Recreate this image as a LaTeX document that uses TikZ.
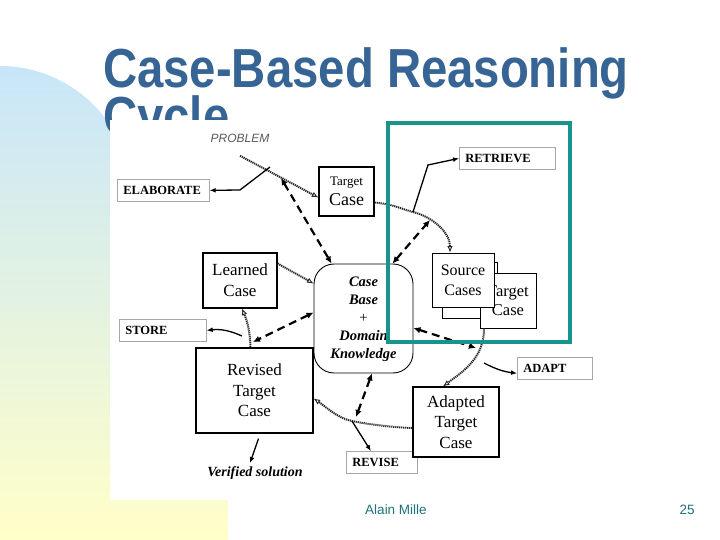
\documentclass[tikz,border=0pt]{standalone}
\usepackage{fontspec}
\setmainfont{Liberation Serif}
\newfontfamily\titlefont[FakeStretch=0.86]{Liberation Sans}
\newfontfamily\slidefont{Liberation Sans}
\usepackage{tikz}
\usetikzlibrary{arrows.meta,positioning,calc}
\definecolor{titleblue}{RGB}{54,100,148}
\definecolor{frameteal}{RGB}{24,148,140}
\definecolor{footteal}{RGB}{30,115,125}
\definecolor{skyblue}{RGB}{200,230,250}
\definecolor{paleyellow}{RGB}{255,255,200}
\tikzset{
  casebox/.style = {draw, line width=1.2pt, fill=white, align=center, inner sep=0pt, font=\fontsize{17}{20.5}\selectfont},
  stepbox/.style = {draw=gray!70, line width=0.7pt, fill=white, inner xsep=6pt, inner ysep=0pt, minimum height=22pt, text width=#1, align=left, anchor=north west, font=\bfseries\fontsize{12.5}{14}\selectfont},
  flow/.style = {draw=black!85, line width=2pt, dash pattern=on 1.2pt off 0.8pt, -{Latex[open,length=6.5pt,width=5.5pt,line width=0.9pt]}},
  act/.style = {line width=1.3pt, -{Latex[length=6pt,width=5pt]}},
  link/.style = {line width=2.2pt, dash pattern=on 8pt off 5pt, {Latex[length=7pt,width=6.5pt]}-{Latex[length=7pt,width=6.5pt]}},
}

\begin{document}
\begin{tikzpicture}[x=1pt,y=-1pt]
\useasboundingbox (0,0) rectangle (720,540);
\fill[white] (0,0) rectangle (720,540);
% slide decoration
\shade[top color=skyblue, bottom color=paleyellow] (0,66) arc[start angle=90, end angle=0, radius=132pt] -- (228,198) -- (228,540) -- (0,540) -- cycle;
\node[anchor=base west, inner sep=0, text=titleblue, font=\titlefont\bfseries\fontsize{55}{55}\selectfont] (title) at (103,88) {Case-Based Reasoning};
\node[anchor=base west, inner sep=0, text=titleblue, font=\titlefont\bfseries\fontsize{55}{55}\selectfont] (title2) at (103,136) {Cycle};
% the pasted figure
\fill[white] (110,120) rectangle (600,500);

\node[font=\slidefont\itshape\fontsize{12}{14}\selectfont, text=black!65] (problem) at (240,138) {PROBLEM};
\node[stepbox=80pt] (elab) at (117,179) {ELABORATE};
\node[stepbox=84pt] (retrieve) at (459,147) {RETRIEVE};
\node[stepbox=75pt] (store) at (119,319) {STORE};
\node[stepbox=63pt] (adapt) at (517,357) {ADAPT};
\node[stepbox=59pt] (revise) at (346,451) {REVISE};

\node[casebox, minimum width=55pt, minimum height=49pt] (target) at (346.5,191.5) {{\fontsize{13}{15}\selectfont Target}\\{\fontsize{18}{19}\selectfont Case}};
\node[casebox, minimum width=74pt, minimum height=55pt, font=\fontsize{17}{21}\selectfont] (learned) at (240,280.5) {Learned\\Case};
\node[casebox, minimum width=117pt, minimum height=85pt] (revised) at (254.5,390.5) {Revised\\Target\\Case};
\node[casebox, minimum width=86pt, minimum height=70pt] (adapted) at (456,422) {Adapted\\Target\\Case};
\node[casebox, line width=0.8pt, minimum width=55pt, minimum height=56pt] (sourceback) at (469.5,290) {};
\node[casebox, line width=0.8pt, minimum width=56pt, minimum height=55pt, font=\fontsize{16.5}{19.5}\selectfont] (target2) at (508,300.5) {Target\\Case};
\node[casebox, line width=0.8pt, minimum width=62pt, minimum height=54pt, font=\fontsize{16}{20}\selectfont] (sources) at (463,280) {Source\\Cases};
\node[draw, line width=0.9pt, fill=white, rounded corners=20pt, minimum width=99pt, minimum height=109pt, inner sep=0pt, font=\bfseries\itshape\fontsize{14.5}{18}\selectfont] (casebase) at (363.5,318.5)
  {\raisebox{-6pt}{\begin{tabular}{@{}c@{}}Case\\Base\\{\mdseries\upshape +}\\Domain\\Knowledge\end{tabular}}};
\node[font=\bfseries\itshape\fontsize{14}{16}\selectfont] (verified) at (255,473) {Verified solution};

\coordinate (jelab) at (270,167);
\coordinate (jprob) at (281,178);
\coordinate (jstore) at (242,336);
\coordinate (jrevlink) at (253,342);
\coordinate (jrevise) at (352,421);
\coordinate (jrevdash) at (356,417);
\coordinate (jretr) at (413,212);
\coordinate (jretdash) at (430,220);
\coordinate (jadapt) at (484,363);
\coordinate (jadadash) at (476,348);

% reasoning flow
\draw[flow] ([yshift=-10pt]problem.south) -- ([yshift=-6pt]target.west);
\draw[flow] ([yshift=-11pt]target.east) .. controls +(20,2) and +(-15,-4) .. (jretr) .. controls +(20,5) and +(0,-20) .. ([xshift=-13pt]sources.north);
\draw[flow] ([xshift=-24pt]target2.south) .. controls +(0,30) and +(20,-15) .. ([xshift=-13pt]adapted.north);
\draw[flow] ([yshift=-6pt]adapted.west) .. controls +(-25,-1) and +(15,3) .. (jrevise) .. controls +(-15,-3) and +(12,8) .. ([yshift=-8pt]revised.east);
\draw[flow] ([xshift=-4pt]revised.north) to[bend right=10] ([xshift=2pt]learned.south);
\draw[flow] ([yshift=17pt]learned.east) -- ([yshift=35pt]casebase.west);

% steps
\draw[act] (jelab) -- (240,190) -- (elab.east);
\draw[act] (jretr) -- (428,165) -- (retrieve.west);
\draw[act] (jadapt) to[bend right=10] ([yshift=-5pt]adapt.west);
\draw[act] (jrevise) -- ([xshift=-11pt]revise.north);
\draw[act] (jstore) to[bend right=15] (store.east);
\draw[act] ([xshift=4pt,yshift=-5pt]revised.south) -- ([xshift=-5pt]verified.north);

% knowledge links
\draw[link] (jprob) -- ([xshift=18pt]casebase.north west);
\draw[link] ([xshift=-21pt]casebase.north east) -- (jretdash);
\draw[link] ([yshift=-9.5pt]casebase.east) -- (jadadash);
\draw[link] ([xshift=8.5pt]casebase.south) -- (jrevdash);
\draw[link] ([yshift=6pt]casebase.west) -- (jrevlink);

\draw[frameteal, line width=4pt] (388,123) rectangle (570,342);

\node[font=\slidefont\fontsize{13.5}{16}\selectfont, text=footteal] (author) at (396,510) {Alain Mille};
\node[font=\slidefont\fontsize{13.5}{16}\selectfont, text=footteal] (page) at (687,510) {25};
\end{tikzpicture}
\end{document}
